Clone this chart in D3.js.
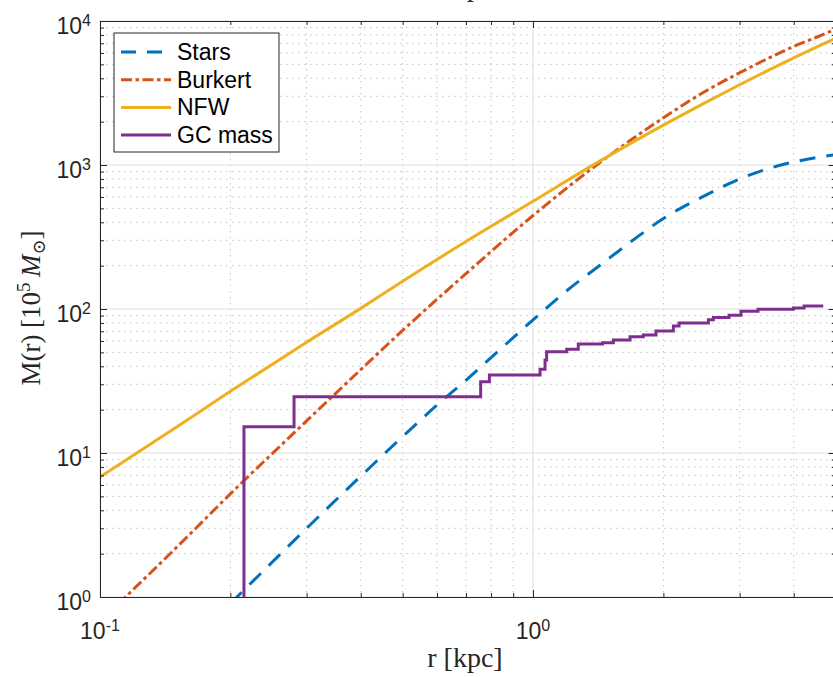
<!DOCTYPE html>
<html>
<head>
<meta charset="utf-8">
<script src="https://cdn.jsdelivr.net/npm/d3@7"></script>
<style>
  html, body { margin: 0; padding: 0; background: #ffffff; overflow: hidden; }
  svg { display: block; }
</style>
</head>
<body>
<svg id="chart" width="833" height="677"></svg>
<script>
// ---------------- data ----------------
const seriesNames = ["Stars", "Burkert", "NFW", "GC mass"];
const seriesColors = ["#0072BD", "#D95319", "#EDB120", "#7E2F8E"];

// Enclosed stellar mass, M(r) in 1e5 Msun
const starsRadius = [0.2, 0.25, 0.3, 0.4, 0.5, 0.6, 0.7, 0.8, 1.0, 1.2, 1.43, 1.7, 2.0, 2.5, 3.0, 3.5, 4.0, 4.5, 5.0];
const starsMass   = [0.9, 1.75, 3.0, 6.9, 13.0, 21.5, 32, 46, 84, 135, 202, 300, 425, 615, 800, 945, 1050, 1125, 1180];

// Burkert halo enclosed mass
const burkertRadius = [0.11, 0.15, 0.2, 0.3, 0.4, 0.5, 0.7, 1.0, 1.4, 2.0, 2.5, 3.0, 3.5, 4.0, 4.5, 5.0];
const burkertMass   = [0.89, 2.2, 5.2, 16.7, 37.9, 71, 176, 446, 997, 2126, 3250, 4370, 5520, 6656, 7680, 8800];

// NFW halo enclosed mass
const nfwRadius = [0.1, 0.15, 0.2, 0.3, 0.4, 0.5, 0.7, 1.0, 1.4, 2.0, 2.5, 3.0, 3.5, 4.0, 4.5, 5.0];
const nfwMass   = [6.8, 15.1, 26.8, 58.8, 101, 156, 294, 560, 1030, 1890, 2710, 3610, 4560, 5550, 6560, 7590];

// Cumulative globular-cluster mass: radius of each step and mass after it
const gcRadius = [0.215, 0.2806, 0.757, 0.793, 1.038, 1.066, 1.075, 1.196, 1.272, 1.447, 1.533, 1.675, 1.798,
                  1.923, 2.109, 2.174, 2.541, 2.609, 2.836, 3.022, 3.308, 3.992, 4.226];
const gcMass   = [15.2, 24.6, 31.3, 34.8, 38.1, 44.2, 50.5, 52.5, 57.1, 58.3, 60.9, 64.2, 66.0,
                  70.3, 76.2, 80.0, 84.3, 87.3, 90.4, 96.4, 99.7, 101.6, 104.9];
const gcOuterRadius = 4.68;
const gcInnerMass = 0.1;

// axes
const xDomain = [0.1, 5];
const yDomain = [1, 1e4];
const xMajorTicks = [0.1, 1];
const xTickLabels = [["10", "-1"], ["10", "0"]];
const xMinorTicks = [0.2, 0.3, 0.4, 0.5, 0.6, 0.7, 0.8, 0.9, 2, 3, 4, 5];
const yMajorTicks = [1, 10, 100, 1000, 10000];
const yTickLabels = [["10", "0"], ["10", "1"], ["10", "2"], ["10", "3"], ["10", "4"]];
const yMinorTicks = [2,3,4,5,6,7,8,9, 20,30,40,50,60,70,80,90, 200,300,400,500,600,700,800,900,
                     2000,3000,4000,5000,6000,7000,8000,9000];

// ---------------- layout ----------------
const plotLeft = 100, plotRight = 835.7, plotTop = 21, plotBottom = 597;
const axisColor = "#262626";
const sansFont = "'Liberation Sans', Arial, Helvetica, sans-serif";
const serifFont = "'Liberation Serif', 'Times New Roman', 'DejaVu Serif', serif";

const svg = d3.select("#chart");
svg.append("rect").attr("width", 833).attr("height", 677).attr("fill", "#ffffff");

const x = d3.scaleLog().domain(xDomain).range([plotLeft, plotRight]);
const y = d3.scaleLog().domain(yDomain).range([plotBottom, plotTop]);

svg.append("defs").append("clipPath").attr("id", "plotClip")
  .append("rect").attr("x", plotLeft).attr("y", plotTop)
  .attr("width", plotRight - plotLeft).attr("height", plotBottom - plotTop);

// ---------------- grid ----------------
const grid = svg.append("g");
grid.selectAll("line.xminor").data(xMinorTicks).join("line")
  .attr("x1", d => x(d)).attr("x2", d => x(d)).attr("y1", plotTop).attr("y2", plotBottom)
  .attr("stroke", "#c4c4c4").attr("stroke-width", 1).attr("stroke-dasharray", "1.5,4.5");
grid.selectAll("line.yminor").data(yMinorTicks).join("line")
  .attr("y1", d => y(d)).attr("y2", d => y(d)).attr("x1", plotLeft).attr("x2", plotRight)
  .attr("stroke", "#c4c4c4").attr("stroke-width", 1).attr("stroke-dasharray", "1.5,4.5");
grid.selectAll("line.xmajor").data(xMajorTicks).join("line")
  .attr("x1", d => x(d)).attr("x2", d => x(d)).attr("y1", plotTop).attr("y2", plotBottom)
  .attr("stroke", "#dedede").attr("stroke-width", 1);
grid.selectAll("line.ymajor").data(yMajorTicks).join("line")
  .attr("y1", d => y(d)).attr("y2", d => y(d)).attr("x1", plotLeft).attr("x2", plotRight)
  .attr("stroke", "#dedede").attr("stroke-width", 1);

// ---------------- curves ----------------
const plot = svg.append("g").attr("clip-path", "url(#plotClip)");
const smoothLine = d3.line().x(d => x(d[0])).y(d => y(d[1])).curve(d3.curveMonotoneX);
const stepLine = d3.line().x(d => x(d[0])).y(d => y(d[1])).curve(d3.curveStepAfter);

const starsPts = starsRadius.map((r, i) => [r, starsMass[i]]);
const burkertPts = burkertRadius.map((r, i) => [r, burkertMass[i]]);
const nfwPts = nfwRadius.map((r, i) => [r, nfwMass[i]]);
const gcPts = [[gcRadius[0], gcInnerMass]]
  .concat(gcRadius.map((r, i) => [r, gcMass[i]]))
  .concat([[gcOuterRadius, gcMass[gcMass.length - 1]]]);

const dashStars = "16,11";
const dashBurkert = "11,3.5,3.5,3.5";

plot.append("path").attr("d", smoothLine(starsPts)).attr("fill", "none")
  .attr("stroke", seriesColors[0]).attr("stroke-width", 3).attr("stroke-dasharray", dashStars);
plot.append("path").attr("d", smoothLine(burkertPts)).attr("fill", "none")
  .attr("stroke", seriesColors[1]).attr("stroke-width", 3).attr("stroke-dasharray", dashBurkert);
plot.append("path").attr("d", smoothLine(nfwPts)).attr("fill", "none")
  .attr("stroke", seriesColors[2]).attr("stroke-width", 3);
plot.append("path").attr("d", stepLine(gcPts)).attr("fill", "none")
  .attr("stroke", seriesColors[3]).attr("stroke-width", 3).attr("stroke-linejoin", "miter");

// ---------------- axes (ticks point inward on all four sides) ----------------
function styleAxis(g) {
  g.selectAll("path.domain").attr("stroke", axisColor).attr("stroke-width", 1);
  g.selectAll(".tick line").attr("stroke", axisColor).attr("stroke-width", 1);
  g.selectAll(".tick text").remove();
}
const majorLen = 7, minorLen = 4;
svg.append("g").attr("transform", `translate(0,${plotBottom})`)
  .call(d3.axisBottom(x).tickValues(xMajorTicks).tickSizeInner(-majorLen).tickSizeOuter(0).tickFormat(""))
  .call(styleAxis);
svg.append("g").attr("transform", `translate(0,${plotBottom})`)
  .call(d3.axisBottom(x).tickValues(xMinorTicks).tickSizeInner(-minorLen).tickSizeOuter(0).tickFormat(""))
  .call(styleAxis);
svg.append("g").attr("transform", `translate(0,${plotTop})`)
  .call(d3.axisTop(x).tickValues(xMajorTicks).tickSizeInner(-majorLen).tickSizeOuter(0).tickFormat(""))
  .call(styleAxis);
svg.append("g").attr("transform", `translate(0,${plotTop})`)
  .call(d3.axisTop(x).tickValues(xMinorTicks).tickSizeInner(-minorLen).tickSizeOuter(0).tickFormat(""))
  .call(styleAxis);
svg.append("g").attr("transform", `translate(${plotLeft},0)`)
  .call(d3.axisLeft(y).tickValues(yMajorTicks).tickSizeInner(-majorLen).tickSizeOuter(0).tickFormat(""))
  .call(styleAxis);
svg.append("g").attr("transform", `translate(${plotLeft},0)`)
  .call(d3.axisLeft(y).tickValues(yMinorTicks).tickSizeInner(-minorLen).tickSizeOuter(0).tickFormat(""))
  .call(styleAxis);
svg.append("g").attr("transform", `translate(${plotRight},0)`)
  .call(d3.axisRight(y).tickValues(yMajorTicks).tickSizeInner(-majorLen).tickSizeOuter(0).tickFormat(""))
  .call(styleAxis);
svg.append("g").attr("transform", `translate(${plotRight},0)`)
  .call(d3.axisRight(y).tickValues(yMinorTicks).tickSizeInner(-minorLen).tickSizeOuter(0).tickFormat(""))
  .call(styleAxis);

// ---------------- tick labels (power-of-ten notation) ----------------
function powerLabel(sel, base, exp) {
  sel.append("tspan").text(base);
  sel.append("tspan").attr("dy", -8).attr("font-size", 16).text(exp);
}
xMajorTicks.forEach((v, i) => {
  const t = svg.append("text").attr("x", x(v)).attr("y", 639)
    .attr("text-anchor", "middle").attr("font-family", sansFont)
    .attr("font-size", 23).attr("fill", axisColor);
  powerLabel(t, xTickLabels[i][0], xTickLabels[i][1]);
});
yMajorTicks.forEach((v, i) => {
  const t = svg.append("text").attr("x", 91).attr("y", y(v) + 13)
    .attr("text-anchor", "end").attr("font-family", sansFont)
    .attr("font-size", 23).attr("fill", axisColor);
  powerLabel(t, yTickLabels[i][0], yTickLabels[i][1]);
});

// ---------------- axis titles ----------------
svg.append("text").attr("x", 465).attr("y", 667).attr("text-anchor", "middle")
  .attr("font-family", serifFont).attr("font-size", 28).attr("fill", axisColor)
  .text("r [kpc]");
// x title of the panel above; only its lower edge falls inside this frame
svg.append("text").attr("x", 465).attr("y", -4).attr("text-anchor", "middle")
  .attr("font-family", serifFont).attr("font-size", 28).attr("fill", axisColor)
  .text("r [kpc]");

const yt = svg.append("text")
  .attr("transform", "translate(40,308) rotate(-90)")
  .attr("text-anchor", "middle").attr("font-family", serifFont)
  .attr("font-size", 27).attr("fill", axisColor);
yt.append("tspan").text("M(r) [10");
yt.append("tspan").attr("dy", -10).attr("font-size", 19).text("5");
yt.append("tspan").attr("dy", 10).text("\u2009");
yt.append("tspan").attr("font-style", "italic").text("M");
yt.append("tspan").attr("dy", 5).attr("font-size", 18).attr("font-family", "'DejaVu Serif', serif").text("\u2299");
yt.append("tspan").attr("dy", -5).text("]");

// ---------------- legend ----------------
const legend = svg.append("g");
legend.append("rect").attr("x", 114).attr("y", 33).attr("width", 165).attr("height", 119)
  .attr("fill", "#ffffff").attr("stroke", axisColor).attr("stroke-width", 1);
const legendDash = ["15,11", dashBurkert, null, null];
seriesNames.forEach((name, i) => {
  const cy = 52 + i * 27.7;
  const ln = legend.append("line").attr("x1", 121).attr("x2", 171).attr("y1", cy).attr("y2", cy)
    .attr("stroke", seriesColors[i]).attr("stroke-width", 3);
  if (legendDash[i]) ln.attr("stroke-dasharray", legendDash[i]);
  legend.append("text").attr("x", 177).attr("y", cy + 8)
    .attr("font-family", sansFont).attr("font-size", 23).attr("fill", "#000000")
    .text(name);
});
</script>
</body>
</html>
